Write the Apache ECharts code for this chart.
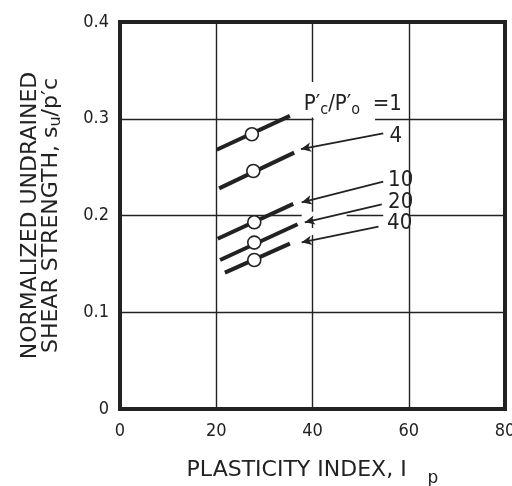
<!DOCTYPE html>
<html>
<head>
<meta charset="utf-8">
<script src="https://cdn.jsdelivr.net/npm/echarts@6/dist/echarts.min.js"></script>
<style>
  html, body { margin: 0; padding: 0; background: #fff; }
  #chart { width: 512px; height: 486px; }
</style>
</head>
<body>
<div id="chart"></div>
<script>
// Normalized undrained shear strength vs plasticity index,
// one band per overconsolidation ratio P'c/P'o.
const ratioLabels = ['1', '4', '10', '20', '40'];
const ipStart = [20.1, 20.6, 20.3, 20.8, 21.8];
const suStart = [0.268, 0.228, 0.176, 0.154, 0.141];
const ipEnd = [35.3, 36.2, 36.0, 36.9, 35.3];
const suEnd = [0.303, 0.265, 0.212, 0.191, 0.171];
// open circles marking the tested soil on each band
const ipTest = [27.4, 27.7, 27.9, 27.9, 27.9];
const suTest = [0.284, 0.246, 0.193, 0.172, 0.154];

const xTicks = [0, 20, 40, 60, 80];
const yTicks = ['0', '0.1', '0.2', '0.3', '0.4'];

// leader arrows: label end -> band end, for ratios 4, 10, 20, 40
const arrowFrom = [[54.7, 0.285], [54.7, 0.235], [54.4, 0.2116], [53.7, 0.1884]];
const arrowTo = [[37.6, 0.2687], [37.75, 0.2136], [38.4, 0.193], [37.75, 0.1723]];
const ratioLabelPos = [[56.0, 0.2822], [55.7, 0.2367], [55.7, 0.2134], [55.5, 0.1919]];
const headerPos = [38.2, 0.3147];

// breaks in the grid where the annotations cross it: [x1, y1, x2, y2]
const gridBreaks = [
  [40, 0.3, 40, 0.338],
  [40, 0.3, 53.0, 0.3],
  [40, 0.1964, 40, 0.2039],
  [40, 0.1798, 40, 0.1871],
  [37.75, 0.2, 47.1, 0.2],
  [54.7, 0.2, 60, 0.2]
];

const INK = '#222';
const TICK_FONT = '"DejaVu Sans Condensed", "DejaVu Sans", sans-serif';
const NOTE_FONT = '"Liberation Sans Narrow", "DejaVu Sans Condensed", sans-serif';
const TITLE_FONT = '"DejaVu Sans", sans-serif';

const chart = echarts.init(document.getElementById('chart'), null, { renderer: 'canvas' });

const bandSeries = ratioLabels.map((r, i) => ({
  name: 'P\'c/P\'o = ' + r,
  type: 'line',
  data: [
    [ipStart[i], suStart[i]],
    [ipEnd[i], suEnd[i]]
  ],
  lineStyle: { color: INK, width: 4 },
  symbol: 'none',
  silent: true,
  animation: false,
  z: 3
}));

const testSeries = {
  name: 'test',
  type: 'scatter',
  data: ipTest.map((x, i) => [x, suTest[i]]),
  symbol: 'circle',
  symbolSize: 13,
  itemStyle: { color: '#fff', borderColor: INK, borderWidth: 1.6, opacity: 1 },
  silent: true,
  animation: false,
  z: 4
};

const arrowSeries = {
  name: 'leaders',
  type: 'line',
  data: [],
  silent: true,
  animation: false,
  z: 3,
  markLine: {
    silent: true,
    animation: false,
    symbol: ['none', 'arrow'],
    symbolSize: [7, 10],
    label: { show: false },
    lineStyle: { color: INK, width: 1.8, type: 'solid' },
    data: arrowFrom.map((p, i) => [{ coord: p }, { coord: arrowTo[i] }])
  }
};

chart.setOption({
  animation: false,
  backgroundColor: '#fff',
  grid: {
    left: 120, right: 7, top: 22, bottom: 77,
    containLabel: false, outerBoundsMode: 'none',
    show: true, borderColor: INK, borderWidth: 4, backgroundColor: 'transparent'
  },
  xAxis: {
    type: 'value', min: 0, max: 80, interval: 20,
    axisLine: { show: false }, axisTick: { show: false },
    splitLine: { show: true, lineStyle: { color: INK, width: 1.4 } },
    axisLabel: {
      margin: 13, color: INK, fontFamily: TICK_FONT, fontSize: 18,
      formatter: v => String(xTicks[xTicks.indexOf(v)])
    },
    name: '{t|PLASTICITY INDEX, I   }{s|p}',
    nameLocation: 'middle', nameGap: 50,
    nameTextStyle: {
      rich: {
        t: { fontFamily: TITLE_FONT, fontSize: 22, color: INK, verticalAlign: 'top', lineHeight: 24 },
        s: { fontFamily: TITLE_FONT, fontSize: 17, color: INK, verticalAlign: 'top', lineHeight: 18, padding: [11, 0, 0, 0] }
      }
    }
  },
  yAxis: {
    type: 'value', min: 0, max: 0.4, interval: 0.1,
    axisLine: { show: false }, axisTick: { show: false },
    splitLine: { show: true, lineStyle: { color: INK, width: 1.4 } },
    axisLabel: {
      margin: 11, color: INK, fontFamily: TICK_FONT, fontSize: 18,
      formatter: v => yTicks[Math.round(v * 10)]
    },
    name: '{t|NORMALIZED UNDRAINED}\n{t|SHEAR STRENGTH, s}{s|u}{t|/p′c}',
    nameLocation: 'middle', nameGap: 58,
    nameTextStyle: {
      align: 'center',
      rich: {
        t: { fontFamily: TITLE_FONT, fontSize: 22, color: INK, lineHeight: 21 },
        s: { fontFamily: TITLE_FONT, fontSize: 16, color: INK, lineHeight: 21, padding: [8, 0, 0, 0] }
      }
    }
  },
  series: bandSeries.concat([testSeries, arrowSeries])
});

// annotations and grid breaks, placed through the chart's own scales
function px(p) { return chart.convertToPixel({ gridIndex: 0 }, p); }

const graphics = [];
gridBreaks.forEach(b => {
  const a = px([b[0], b[1]]);
  const c = px([b[2], b[3]]);
  const vertical = b[0] === b[2];
  let x, y, w, h;
  if (vertical) {
    x = a[0] - 2.5; w = 5;
    y = Math.min(a[1], c[1]);
    h = Math.abs(a[1] - c[1]);
    if (b[1] === 0.3) { y = c[1]; h = a[1] - c[1] - 1.2; }
  } else {
    y = a[1] - 2.5; h = 5;
    x = Math.min(a[0], c[0]); w = Math.abs(a[0] - c[0]);
    if (b[0] === 40) { x += 1.2; w -= 1.2; }
  }
  graphics.push({ type: 'rect', shape: { x, y, width: w, height: h }, style: { fill: '#fff' }, z: 1, silent: true });
});

ratioLabels.slice(1).forEach((r, i) => {
  const p = px(ratioLabelPos[i]);
  graphics.push({
    type: 'text', z: 5, silent: true,
    style: { text: r, x: p[0], y: p[1], font: '22px ' + NOTE_FONT, fill: INK, align: 'left', verticalAlign: 'middle' }
  });
});

const hp = px(headerPos);
graphics.push({
  type: 'text', z: 5, silent: true,
  style: {
    text: '{t|P′}{s|c}{t|/P′}{s|o}{t|  =' + ratioLabels[0] + '}',
    x: hp[0], y: hp[1], align: 'left', verticalAlign: 'middle',
    rich: {
      t: { font: '22px ' + NOTE_FONT, fill: INK, verticalAlign: 'top', lineHeight: 23 },
      s: { font: '16px ' + NOTE_FONT, fill: INK, verticalAlign: 'top', lineHeight: 17, padding: [9, 0, 0, 0] }
    }
  }
});

chart.setOption({ graphic: { elements: graphics } });
</script>
</body>
</html>
